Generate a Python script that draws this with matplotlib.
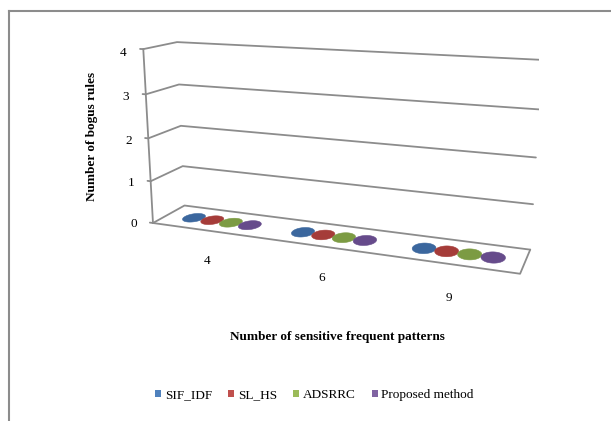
import numpy as np
import matplotlib
matplotlib.use("Agg")
import matplotlib.pyplot as plt
from matplotlib.lines import Line2D
from matplotlib.patches import Patch
from mpl_toolkits.mplot3d import proj3d
from mpl_toolkits.mplot3d.art3d import Poly3DCollection

# ---- data -------------------------------------------------------------
categories = ["4", "6", "9"]
series_names = ["SIF_IDF", "SL_HS", "ADSRRC", "Proposed method"]
sif_idf = [0, 0, 0]
sl_hs = [0, 0, 0]
adsrrc = [0, 0, 0]
proposed = [0, 0, 0]
y_ticks = [0, 1, 2, 3, 4]

series_values = [sif_idf, sl_hs, adsrrc, proposed]
legend_colors = ["#4F81BD", "#C0504D", "#9BBB59", "#8064A2"]
top_colors = ["#3B679E", "#A53C39", "#7C9B43", "#664B8B"]

# ---- figure setup -------------------------------------------------------
W, H, DPI = 611, 421, 100
plt.rcParams["font.family"] = ["Liberation Serif", "DejaVu Serif"]
FS = 9.5
GRID = dict(color="#8c8c8c", lw=1.3, solid_capstyle="round")

fig = plt.figure(figsize=(W / DPI, H / DPI), dpi=DPI, facecolor="white")
ax = fig.add_axes([0.1, 0.3, 0.8, 0.6], projection="3d", computed_zorder=False)

n_cat = len(categories)
depth = 0.5
zmax = y_ticks[-1]
ax.set_xlim(0, n_cat)
ax.set_ylim(0, depth)
ax.set_zlim(0, zmax)
ax.set_xticks([])
ax.set_yticks([])
ax.set_zticks([])
ax.set_box_aspect((n_cat, depth, zmax * 0.36))
ax.view_init(elev=14, azim=-69)
ax.set_proj_type("persp", focal_length=0.36)
ax.set_axis_off()

# walls: gridlines on the side wall and the back wall
for v in y_ticks:
    ax.plot([0, 0, n_cat], [0, depth, depth], [v, v, v], **GRID)
    ax.plot([-0.03, 0], [0, 0], [v, v], **GRID)

# value axis and the floor outline
ax.plot([0, 0], [0, 0], [0, zmax], **GRID)
ax.plot([0, n_cat, n_cat], [0, 0, depth], [0, 0, 0], **GRID)

# cylinders (clustered along the category axis)
rx = 0.088
ry = 0.23 * depth
spacing = 0.175
theta = np.linspace(0, 2 * np.pi, 60)
n_ser = len(series_values)
for i in range(n_cat):
    for j, vals in enumerate(series_values):
        cx = i + 0.5 + (j - (n_ser - 1) / 2) * spacing
        cy = depth / 2
        h = vals[i]
        xs = cx + rx * np.cos(theta)
        ys = cy + ry * np.sin(theta)
        if h > 0:
            side = [[(xs[k], ys[k], 0), (xs[k + 1], ys[k + 1], 0),
                     (xs[k + 1], ys[k + 1], h), (xs[k], ys[k], h)]
                    for k in range(len(theta) - 1)]
            ax.add_collection3d(Poly3DCollection(side, facecolor=legend_colors[j],
                                                 edgecolor="none"))
        top = [list(zip(xs, ys, np.full_like(xs, h)))]
        ax.add_collection3d(Poly3DCollection(top, facecolor=top_colors[j],
                                             edgecolor=top_colors[j], lw=0.4))


def to_pixels(pts):
    """Project 3D data points to figure pixels (origin bottom-left)."""
    pts = np.asarray(pts, float)
    px, py, _ = proj3d.proj_transform(pts[:, 0], pts[:, 1], pts[:, 2], ax.get_proj())
    return ax.transData.transform(np.column_stack([px, py]))


# ---- place the 3D box so its frame corners land on the layout anchors ----
frame_pts = np.array([
    [0, 0, 0], [n_cat, 0, 0], [0, depth, zmax], [n_cat, depth, zmax],
    [0, 0, zmax], [n_cat, depth, 0], [0, depth, 0],
], float)
frame_anchors_px = np.array([
    [154.5, 224.5], [520, 272], [177, 41], [541, 59],
    [144.5, 47.5], [530, 251], [183, 208],
], float)

fig.canvas.draw()
disp = to_pixels(frame_pts)
cur = np.column_stack([disp[:, 0], H - disp[:, 1]])
bb = ax.get_position().transformed(fig.transFigure)
c0 = np.array([bb.x0 + bb.width / 2, H - (bb.y0 + bb.height / 2)])
s0 = bb.width
nrm = (cur - c0) / s0
A = np.zeros((2 * len(nrm), 3))
b = np.zeros(2 * len(nrm))
A[0::2, 0] = nrm[:, 0]
A[0::2, 1] = 1
A[1::2, 0] = nrm[:, 1]
A[1::2, 2] = 1
b[0::2] = frame_anchors_px[:, 0]
b[1::2] = frame_anchors_px[:, 1]
s1, c1x, c1y = np.linalg.lstsq(A, b, rcond=None)[0]
ax.set_position([(c1x - s1 / 2) / W, (H - c1y - s1 / 2) / H, s1 / W, s1 / H])
fig.canvas.draw()

# ---- axis labels placed at projected positions ---------------------------
tick_px = to_pixels([[-0.19, 0, v - 0.1] for v in y_ticks])
for v, (x, y) in zip(y_ticks, tick_px):
    fig.text(x / W, y / H, str(v), ha="center", va="center", fontsize=FS)

cat_px = to_pixels([[i + 0.5, 0, -0.73] for i in range(n_cat)])
for cat, (x, y) in zip(categories, cat_px):
    fig.text(x / W, y / H, cat, ha="center", va="center", fontsize=FS)

# ---- titles, legend, outer border ----------------------------------------
fig.text(337.5 / W, 1 - 337 / H, "Number of sensitive frequent patterns",
         ha="center", va="center", fontsize=FS, fontweight="bold")
fig.text(92 / W, 1 - 136.5 / H, "Number of bogus rules", rotation=90,
         ha="center", va="center", fontsize=FS, fontweight="bold")

handles = [Patch(facecolor=c, edgecolor="none", label=n)
           for c, n in zip(legend_colors, series_names)]
fig.legend(handles=handles, loc="center", bbox_to_anchor=(314.5 / W, 1 - 395 / H),
           ncol=4, frameon=False, fontsize=FS, handlelength=0.45,
           handleheight=0.45, handletextpad=0.25, columnspacing=1.25,
           borderpad=0, borderaxespad=0)

fig.add_artist(Line2D([9 / W, 9 / W], [0, 1 - 11 / H], transform=fig.transFigure,
                      color="#8c8c8c", lw=1.5))
fig.add_artist(Line2D([9 / W, 1], [1 - 11 / H, 1 - 11 / H], transform=fig.transFigure,
                      color="#8c8c8c", lw=1.5))

fig.savefig("out.png", dpi=DPI, facecolor="white")
